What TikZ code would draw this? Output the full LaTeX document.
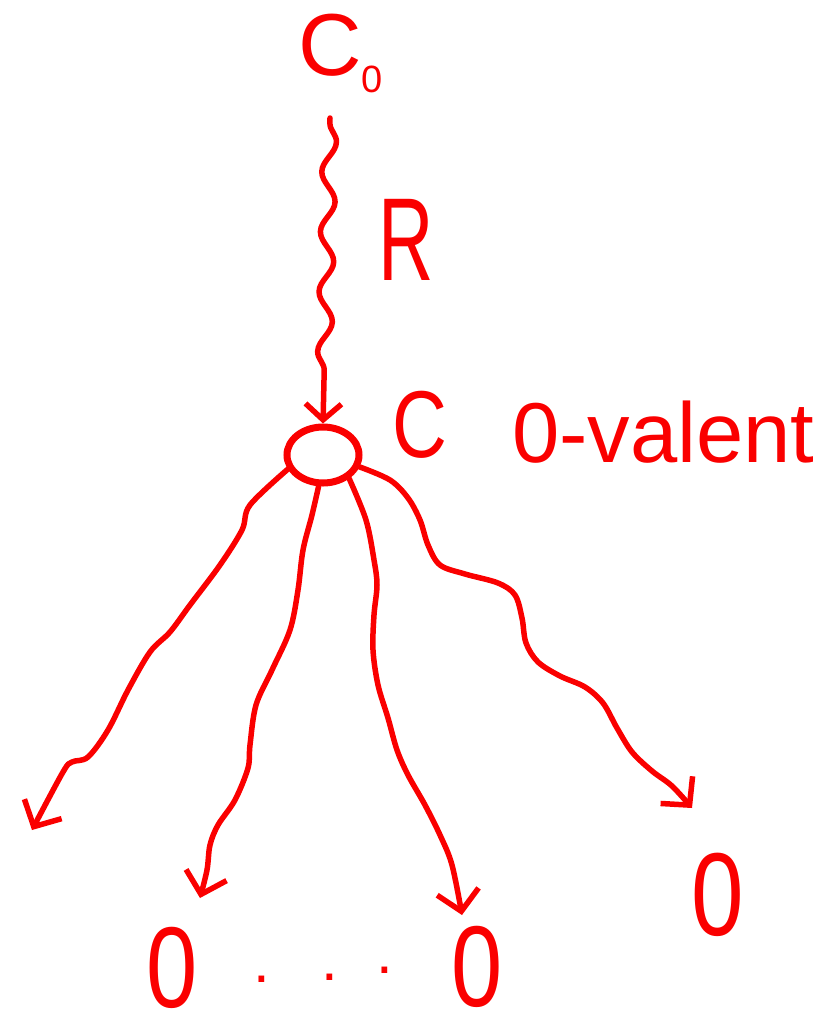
\documentclass[tikz,border=0pt]{standalone}
\usepackage{fontspec}
\setmainfont{Liberation Sans}
\usetikzlibrary{arrows.meta,decorations.pathmorphing,shapes.geometric}
\definecolor{ink}{RGB}{250,0,0}
\begin{document}
\begin{tikzpicture}[x=1pt,y=-1pt,
  inkline/.style={draw=ink,line width=5.5pt,line cap=round,line join=round},
  arr/.style={inkline,-{Straight Barb[length=20pt,width=42pt]}},
  lbl/.style={text=ink,inner sep=0pt,text depth=0pt},
]
\useasboundingbox (0,0) rectangle (830,1031);
% labels
\node[lbl,font=\fontsize{88}{88}\selectfont,anchor=base west] (c0) at (298,75) {C\raisebox{-17pt}{\fontsize{38}{38}\selectfont 0}};
\node[lbl,font=\fontsize{118}{118}\selectfont,anchor=base] (r) at (406,280) {\scalebox{0.65}[1]{R}};
\node[lbl,font=\fontsize{95}{95}\selectfont,anchor=base] (cl) at (420,457) {\scalebox{0.8}[1]{C}};
\node[lbl,font=\fontsize{85}{85}\selectfont,anchor=base west] (val) at (512,462) {0-valent};
\node[lbl,font=\fontsize{115}{115}\selectfont,anchor=base] (z1) at (172,1007) {\scalebox{0.8}[1]{0}};
\node[lbl,font=\fontsize{115}{115}\selectfont,anchor=base] (z2) at (477,1006) {\scalebox{0.8}[1]{0}};
\node[lbl,font=\fontsize{118}{118}\selectfont,anchor=base] (z3) at (718,935) {\scalebox{0.8}[1]{0}};
\node[lbl,font=\fontsize{60}{60}\selectfont,anchor=base] (d1) at (262,982) {.};
\node[lbl,font=\fontsize{60}{60}\selectfont,anchor=base] (d2) at (330,980) {.};
\node[lbl,font=\fontsize{60}{60}\selectfont,anchor=base] (d3) at (385,973) {.};
% circle
\node[ellipse,draw=ink,line width=7pt,minimum width=72pt,minimum height=56pt,inner sep=0pt] (cn) at (323,455) {};
% wavy arrow
\coordinate (wtop) at (330,118);
\draw[inkline,-{Straight Barb[length=16pt,width=36pt]},decoration={snake,segment length=60pt,amplitude=7pt,pre length=5pt,post length=25pt},decorate] (wtop) -- (cn.north);
% end points
\coordinate (e1) at (32,830);
\coordinate (e2) at (200,898);
\coordinate (e3) at (462,915);
\coordinate (e4) at (692,808);
\draw[arr] plot[smooth,tension=0.55] coordinates {(cn.202) (250,505) (242,530) (220,565) (190,605) (170,632) (150,652) (128,690) (108,730) (88,757) (72,762) (63,772) (e1)};
\draw[arr] plot[smooth,tension=0.55] coordinates {(cn.262) (312,515) (303,550) (298,590) (290,630) (272,670) (256,705) (250,745) (248,768) (235,800) (218,825) (210,845) (207,870) (e2)};
\draw[arr] plot[smooth,tension=0.55] coordinates {(cn.318) (366,520) (374,560) (377,585) (374,615) (373,650) (378,685) (388,718) (397,750) (408,775) (425,805) (440,835) (452,865) (e3)};
\draw[arr] plot[smooth,tension=0.55] coordinates {(cn.342) (390,480) (408,498) (420,520) (428,545) (440,565) (465,574) (498,583) (515,595) (522,618) (526,643) (538,662) (560,676) (585,687) (603,703) (617,728) (632,752) (652,771) (672,786) (e4)};
\end{tikzpicture}
\end{document}
